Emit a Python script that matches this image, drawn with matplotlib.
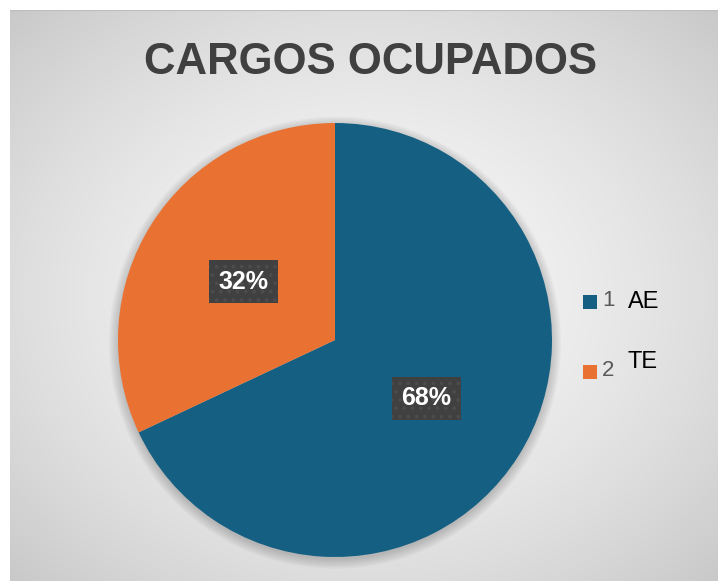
import numpy as np
import matplotlib.pyplot as plt
from matplotlib.patches import Rectangle, Circle

# data
categories = ['AE', 'TE']
legend_nums = ['1', '2']
values = [68, 32]
colors = ['#156082', '#E97132']
title = 'CARGOS OCUPADOS'

W, H = 718, 581
fig = plt.figure(figsize=(W / 100, H / 100), dpi=100)
fig.patch.set_facecolor('white')

# radial gradient background of the chart area
bg = fig.add_axes([10 / W, 0, (W - 10) / W, (H - 10) / H])
yy, xx = np.mgrid[0:1:300j, 0:1:300j]
r = np.sqrt(((xx - 0.5) / 0.75) ** 2 + ((yy - 0.5) / 0.75) ** 2)
shade = 0.97 - 0.2 * np.clip(r, 0, 1.2) ** 1.6
bg.imshow(np.dstack([shade] * 3), extent=[0, 1, 0, 1], aspect='auto', origin='lower')
bg.set_xticks([])
bg.set_yticks([])
for s in bg.spines.values():
    s.set_visible(False)
bg.axhline(1, color='#bdbdbd', lw=1.5)

fig.text(371 / W, 1 - 62 / H, title, ha='center', va='center',
         fontsize=31.5, fontweight='bold', color='#404040', family='Liberation Sans')

# pie
cx, cy, rad = 335, 340, 217
ax = fig.add_axes([(cx - rad) / W, (H - cy - rad) / H, 2 * rad / W, 2 * rad / H])
# soft shadow
for k in range(8):
    ax.add_patch(Circle((0, -0.012), 1.0 + 0.006 * k, color='black', alpha=0.025, lw=0,
                        zorder=0, clip_on=False))

plt.rcParams['hatch.linewidth'] = 1.5
wedges, texts, autotexts = ax.pie(values, colors=colors, startangle=90, counterclock=False,
                                  autopct='%1.0f%%', pctdistance=0.5, radius=1.0,
                                  wedgeprops=dict(linewidth=0))
for t in autotexts:
    t.set_color('white')
    t.set_fontsize(18)
    t.set_fontweight('bold')
    t.set_family('Liberation Sans')
    t.set_bbox(dict(boxstyle='square,pad=0.38', facecolor='#404040', edgecolor='#4c4c4c',
                    linewidth=0, hatch='..'))
ax.set_xlim(-1, 1)
ax.set_ylim(-1, 1)
ax.set_aspect('equal')
ax.axis('off')

# legend
sq_y = [302, 372]
num_y = [300, 371]
name_y = [302, 362]
for i, (num, name) in enumerate(zip(legend_nums, categories)):
    fig.add_artist(Rectangle((583 / W, 1 - (sq_y[i] + 7) / H), 14 / W, 14 / H,
                             facecolor=colors[i], edgecolor='none', transform=fig.transFigure))
    fig.text(602 / W, 1 - num_y[i] / H, num, ha='left', va='center', fontsize=16,
             color='#595959', family='Liberation Sans')
    fig.text(628 / W, 1 - name_y[i] / H, name, ha='left', va='center', fontsize=17,
             color='black', family='Liberation Sans')

fig.savefig('out.png', dpi=100)
